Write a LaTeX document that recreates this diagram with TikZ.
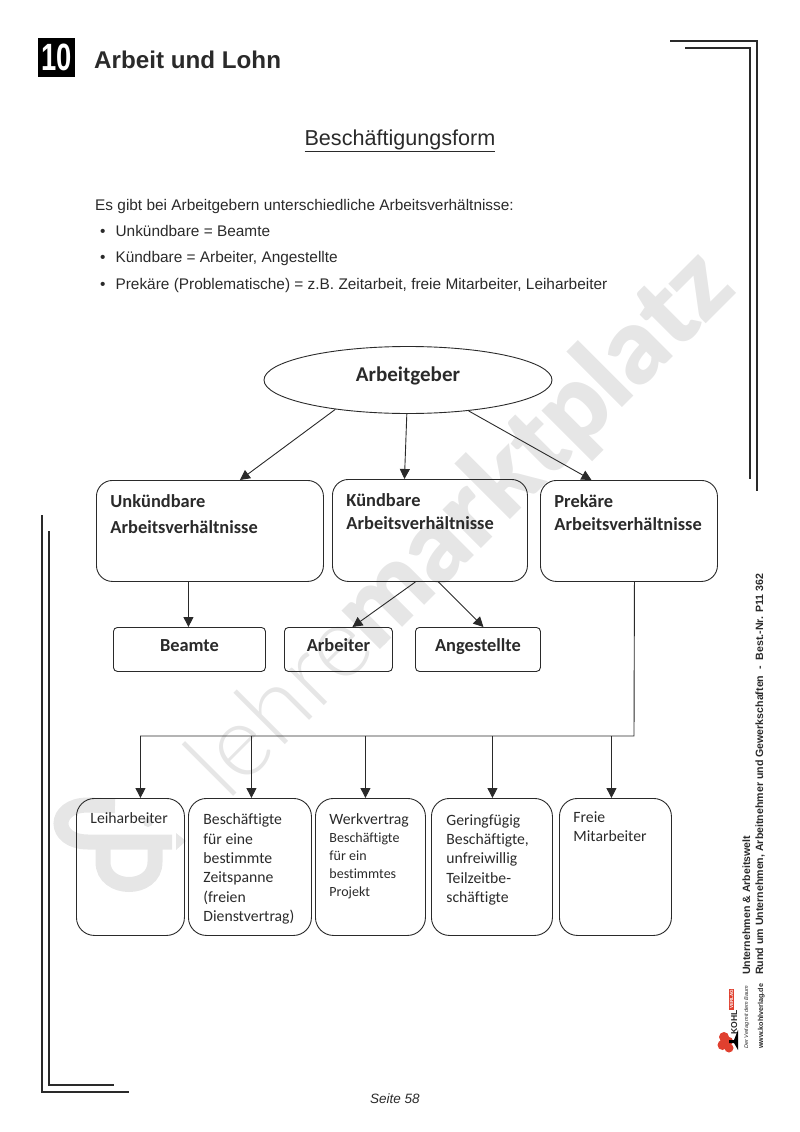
\documentclass[tikz,border=0pt]{standalone}
\usepackage{fontspec}
\setmainfont{Liberation Sans}
\newfontfamily\carlito{Carlito}[Ligatures=NoCommon]
\newfontfamily\latoblack{Lato Black}
\newfontfamily\latolight{Lato Light}
\usetikzlibrary{arrows.meta,positioning,calc,shapes.geometric}
\definecolor{cL}{HTML}{2a2a2a}
\definecolor{cW}{HTML}{e6e6e6}
\definecolor{cR}{HTML}{e0402f}
\tikzset{
  kasten/.style={rectangle,draw=cL,line width=.9pt,fill=none,anchor=north west,
                 align=left,text=cL},
  gross/.style={kasten,rounded corners=16pt,inner xsep=14pt,inner ysep=14pt,
                font=\carlito\bfseries\fontsize{18.4}{23}\selectfont},
  klein/.style={kasten,rounded corners=4pt,minimum height=44pt,align=center,
                text height=10pt,text depth=6pt,
                font=\carlito\bfseries\fontsize{18.4}{20}\selectfont},
  unten/.style={kasten,rounded corners=18pt,
                font=\carlito\fontsize{15.7}{19.3}\selectfont},
  pfeil/.style={-{Triangle[length=10pt,width=10pt]},line width=.9pt,cL},
  linie/.style={line width=.9pt,cL},
  rahmen/.style={line width=2pt,cL,line cap=butt,line join=miter},
  fliess/.style={anchor=base west,inner sep=0pt,font=\fontsize{15.4}{16}\selectfont,text=cL},
  seitenrand/.style={rotate=90,anchor=base west,inner sep=0pt,
                     font=\bfseries\fontsize{10.6}{11}\selectfont,text=cL},
  wasser/.style={rotate=45,text=cW,anchor=base west,inner sep=0pt},
}
\newcommand{\oben}[3]{\parbox[t][#1pt][t]{#2pt}{#3}}
\begin{document}
\begin{tikzpicture}[x=1pt,y=-1pt]
  \useasboundingbox (0,0) rectangle (800,1132);
  % watermark
  \node[wasser,font=\latolight\fontsize{100}{100}\selectfont] (wasser1) at (227,803) {lehrer};
  \node[wasser,font=\latoblack\fontsize{105}{105}\selectfont] (wasser2) at (376,654) {marktplatz};
  \draw[cW,line width=15pt] (115,806) -- (88,805) .. controls (52,805) and (52,842) .. (88,842) -- (172,842);
  \draw[cW,line width=15pt] (103,842) -- (103,862) .. controls (103,892) and (155,892) .. (155,862) -- (155,842);
  \fill[cW] (176,833) -- (186,841) -- (176,850) -- cycle (148,822) circle (5pt);
  % frame
  \draw[rahmen] (670,41) -- (757,41) -- (757,491);
  \draw[rahmen] (685,48) -- (750,48) -- (750,479);
  \draw[rahmen] (42,515) -- (42,1092) -- (129,1092);
  \draw[rahmen] (49,531) -- (49,1085) -- (114,1085);
  % head
  \node[fill=black,text=white,font=\bfseries\fontsize{38}{38}\selectfont,minimum width=37pt,minimum height=38pt,inner sep=0pt] (nummer) at (56.5,57.5) {\scalebox{.72}[1]{10}};
  \node[anchor=base west,inner sep=0pt,text=cL,font=\bfseries\fontsize{24.2}{24}\selectfont] (kapitel) at (94,68) {Arbeit und Lohn};
  \node[anchor=base,inner sep=0pt,text=cL,font=\fontsize{21.6}{24}\selectfont] (titel) at (400,145) {\underline{Beschäftigungsform}};
  \node[fliess] (intro) at (95,210) {Es gibt bei Arbeitgebern unterschiedliche Arbeitsverhältnisse:};
  \node[fliess] (punkt1) at (100,236.500) {•\hspace{10pt}Unkündbare = Beamte};
  \node[fliess] (punkt2) at (100,262.500) {•\hspace{10pt}Kündbare = Arbeiter, Angestellte};
  \node[fliess] (punkt3) at (100,289) {•\hspace{10pt}Prekäre (Problematische) = z.B. Zeitarbeit, freie Mitarbeiter, Leiharbeiter};
  % tree
  \node[ellipse,draw=cL,line width=.9pt,minimum width=288pt,minimum height=67pt,inner sep=0pt,
        font=\carlito\bfseries\fontsize{21}{24}\selectfont,text=cL] (arbeitgeber) at (408,380) {\raisebox{12pt}{Arbeitgeber}};
  \node[gross] (unk) at (96,480) {\oben{73}{199}{\setlength{\baselineskip}{26pt}Unkündbare\\Arbeitsverhältnisse}};
  \node[gross] (kue) at (332,479) {\oben{74}{167}{Kündbare\\Arbeitsverhältnisse}};
  \node[gross] (pre) at (540,480) {\oben{73}{149}{Prekäre\\Arbeitsverhältnisse}};
  \node[klein,minimum width=152pt] (beamte) at (113,627) {Beamte};
  \node[klein,minimum width=108pt] (arbeiter) at (284,627) {Arbeiter};
  \node[klein,minimum width=125pt] (angest) at (415,627) {Angestellte};
  \node[unten,inner xsep=14pt,inner ysep=14pt] (leih) at (76,798) {\oben{109}{80}{Leiharbeiter}};
  \node[unten,inner xsep=15pt,inner ysep=15.500pt] (besch) at (188,798) {\oben{106}{93}{Beschäftigte\\für eine\\bestimmte\\Zeitspanne\\(freien\\Dienstvertrag)}};
  \node[unten,inner xsep=14pt,inner ysep=15pt] (werk) at (315,798) {\oben{107}{82}{Werkvertrag\\{\fontsize{14}{18}\selectfont Beschäftigte\\für ein\\bestimmtes\\Projekt\par}}};
  \node[unten,inner xsep=15pt,inner ysep=16pt] (gering) at (431,798) {\oben{105}{91}{Geringfügig\\Beschäftigte,\\unfreiwillig\\Teilzeitbe-\\schäftigte}};
  \node[unten,inner xsep=14pt,inner ysep=13pt] (freie) at (559,798) {\oben{111}{84}{Freie\\Mitarbeiter}};
  \draw[pfeil] (arbeitgeber.202) -- ([xshift=30pt]unk.north);
  \draw[pfeil] (arbeitgeber.268) -- ([xshift=-25.500pt]kue.north);
  \draw[pfeil] (arbeitgeber.333) -- ([xshift=-37.500pt]pre.north);
  \draw[pfeil] ([xshift=-21.500pt]unk.south) -- ([xshift=-1pt]beamte.north);
  \draw[pfeil] ([xshift=-14.500pt]kue.south) -- ([xshift=14pt]arbeiter.north);
  \draw[pfeil] ([xshift=8.500pt]kue.south) -- ([xshift=5.500pt]angest.north);
  \coordinate (bus) at (634,736);
  \draw[linie] ([xshift=5.500pt]pre.south) -- (bus) -- (140,736);
  \foreach \ziel/\versatz in {leih/10,besch/1.500,werk/-5,gering/.500,freie/-4}
    \draw[pfeil] ([xshift=\versatz pt]\ziel.north |- bus) -- ([xshift=\versatz pt]\ziel.north);
  % side
  \node[seitenrand] (reihe) at (750,975) {Unternehmen \& Arbeitswelt};
  \node[seitenrand] (bestell) at (763,975) {Rund um Unternehmen, Arbeitnehmer und Gewerkschaften \ - \ Best.-Nr. P11 362};
  \node[seitenrand,font=\bfseries\fontsize{8.6}{10}\selectfont] (kohl) at (737,1035) {KOHL};
  \node[rotate=90,fill=cR,text=white,font=\bfseries\fontsize{4.5}{4.5}\selectfont,inner sep=1pt,anchor=west] (verlag) at (731.500,1010) {VERLAG};
  \node[seitenrand,font=\itshape\fontsize{5.5}{6}\selectfont] (slogan) at (748,1049) {Der Verlag mit dem Baum};
  \node[seitenrand,font=\bfseries\fontsize{7.2}{8}\selectfont] (web) at (763,1049) {www.kohlverlag.de};
  \fill[cR] (724,1037) circle (5pt) (722.500,1045) circle (5pt) (729,1048) circle (4.500pt) (729,1041) circle (4pt);
  \fill[black] (729,1040) -- (734,1040) -- (738,1030) -- (738,1050) -- (734,1043) -- (729,1043) -- cycle;
  \node[anchor=base,inner sep=0pt,text=cL,font=\itshape\fontsize{13.5}{16}\selectfont] (seite) at (395,1103) {Seite 58};
\end{tikzpicture}
\end{document}
